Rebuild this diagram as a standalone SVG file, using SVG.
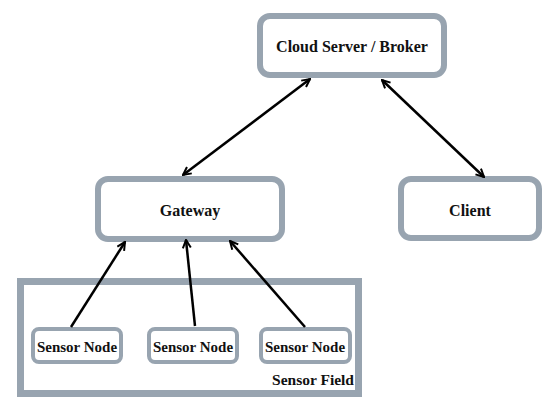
<svg xmlns="http://www.w3.org/2000/svg" width="550" height="411" viewBox="0 0 550 411">
<style>
.box{fill:#fff;stroke:#98a4b0;stroke-width:6}
.small{fill:#fff;stroke:#98a4b0;stroke-width:4}
.field{fill:#fff;stroke:#98a4b0;stroke-width:7}
text{font-family:'Liberation Serif','Times New Roman','DejaVu Serif',serif;font-weight:bold;fill:#111}
.lbl{font-size:16px;text-anchor:middle}
.slbl{font-size:15px;text-anchor:middle}
.conn{stroke:#000;stroke-width:2.5;fill:none}
</style>
<defs>
<marker id="ah" viewBox="0 0 10 10" refX="9" refY="5" markerWidth="4" markerHeight="4" orient="auto-start-reverse" markerUnits="strokeWidth">
<path d="M1,1 L9,5 L1,9" fill="none" stroke="#000" stroke-width="2"/>
</marker>
</defs>
<rect width="550" height="411" fill="#fff"/>
<g id="sensor-field">
<rect class="field" x="20.5" y="281.5" width="338" height="112"/>
<text x="354" y="385" font-size="15.5" text-anchor="end">Sensor Field</text>
</g>
<g id="cloud">
<rect class="box" x="260" y="16" width="184" height="59" rx="10"/>
<text class="lbl" x="352" y="52">Cloud Server / Broker</text>
</g>
<g id="gateway">
<rect class="box" x="98" y="179" width="184" height="60" rx="10"/>
<text class="lbl" x="190" y="216">Gateway</text>
</g>
<g id="client">
<rect class="box" x="401" y="179" width="138" height="59" rx="10"/>
<text class="lbl" x="470" y="216">Client</text>
</g>
<g id="sensor1">
<rect class="small" x="33" y="329" width="88" height="33" rx="6"/>
<text class="slbl" x="77" y="352">Sensor Node</text>
</g>
<g id="sensor2">
<rect class="small" x="149" y="329" width="88" height="33" rx="6"/>
<text class="slbl" x="193" y="352">Sensor Node</text>
</g>
<g id="sensor3">
<rect class="small" x="261" y="329" width="89" height="33" rx="6"/>
<text class="slbl" x="305" y="352">Sensor Node</text>
</g>
<g id="connectors">
<line class="conn" x1="310" y1="79" x2="183" y2="175" marker-start="url(#ah)" marker-end="url(#ah)"/>
<line class="conn" x1="382" y1="80" x2="484" y2="177" marker-start="url(#ah)" marker-end="url(#ah)"/>
<line class="conn" x1="71" y1="327" x2="125" y2="242" marker-end="url(#ah)"/>
<line class="conn" x1="195" y1="326" x2="186" y2="240" marker-end="url(#ah)"/>
<line class="conn" x1="305" y1="327" x2="230" y2="241" marker-end="url(#ah)"/>
</g>
</svg>
